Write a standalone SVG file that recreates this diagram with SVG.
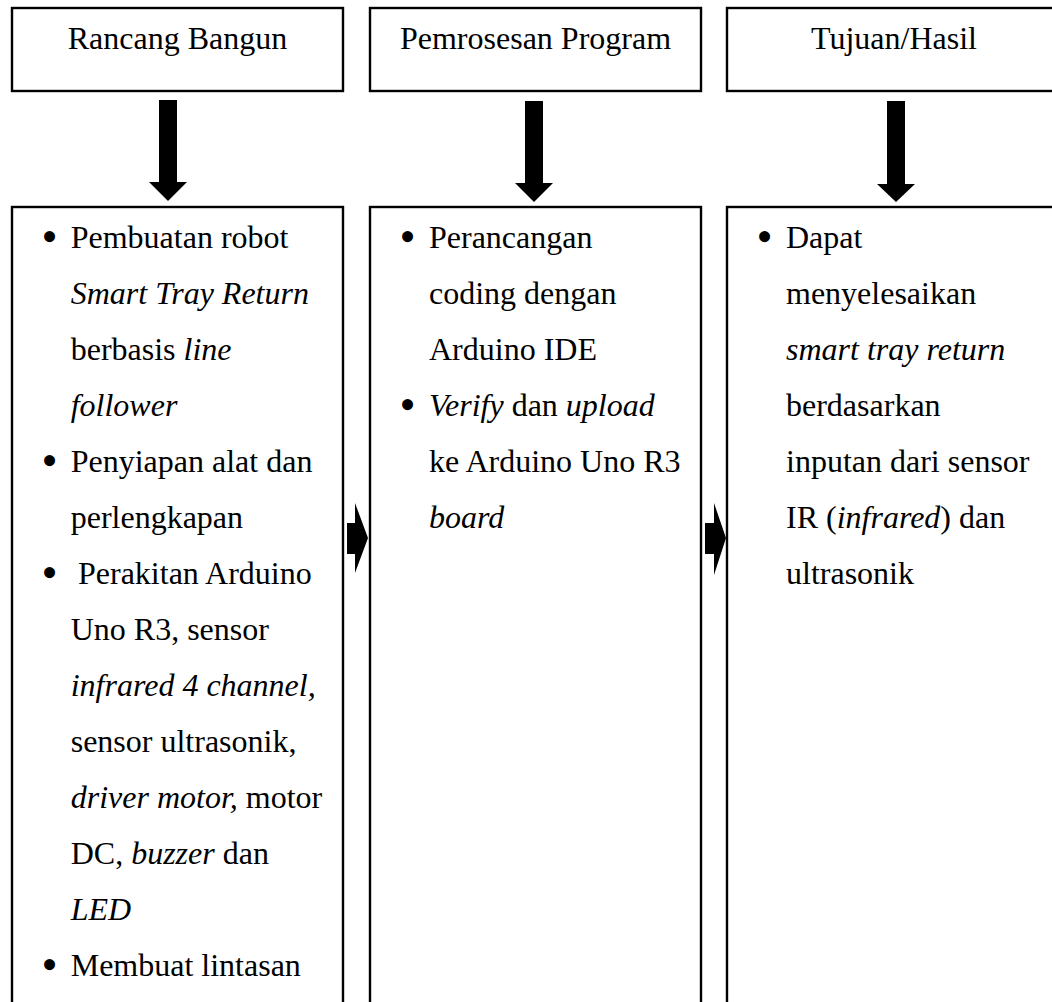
<svg xmlns="http://www.w3.org/2000/svg" width="1052" height="1002" viewBox="0 0 1052 1002">
<style>
.box{fill:#fff;stroke:#000;stroke-width:2.4}
.t{font-family:"Liberation Serif","Times New Roman",serif;font-size:32px;fill:#000}
.h{text-anchor:middle}
.i{font-style:italic}
.b{font-family:"Liberation Serif","Times New Roman",serif;font-size:46px;fill:#000}
.arr{fill:#000}
</style>
<rect width="1052" height="1002" fill="#fff"/>
<g id="head1"><rect class="box" x="12" y="8" width="331" height="83"/><text class="t h" x="177.5" y="49">Rancang Bangun</text></g>
<g id="head2"><rect class="box" x="370" y="8" width="331" height="83"/><text class="t h" x="535.5" y="49">Pemrosesan Program</text></g>
<g id="head3"><rect class="box" x="727" y="8" width="331" height="83"/><text class="t h" x="894" y="49">Tujuan/Hasil</text></g>
<g id="body1"><rect class="box" x="12" y="207" width="331" height="810"/>
<text class="b" x="41.5" y="252">•</text>
<text class="t" x="70.7" y="248">Pembuatan robot</text>
<text class="t i" x="70.7" y="304">Smart Tray Return</text>
<text class="t" x="70.7" y="360">berbasis <tspan class="i">line</tspan></text>
<text class="t i" x="70.7" y="416">follower</text>
<text class="b" x="41.5" y="476">•</text>
<text class="t" x="70.7" y="472">Penyiapan alat dan</text>
<text class="t" x="70.7" y="528">perlengkapan</text>
<text class="b" x="41.5" y="588">•</text>
<text class="t" x="78" y="584">Perakitan Arduino</text>
<text class="t" x="70.7" y="640">Uno R3, sensor</text>
<text class="t i" x="70.7" y="696">infrared 4 channel,</text>
<text class="t" x="70.7" y="752">sensor ultrasonik,</text>
<text class="t" x="70.7" y="808"><tspan class="i">driver motor,</tspan> motor</text>
<text class="t" x="70.7" y="864">DC, <tspan class="i">buzzer</tspan> dan</text>
<text class="t i" x="70.7" y="920">LED</text>
<text class="b" x="41.5" y="980">•</text>
<text class="t" x="70.7" y="976">Membuat lintasan</text>
</g>
<g id="body2"><rect class="box" x="370" y="207" width="331" height="810"/>
<text class="b" x="399.5" y="252">•</text>
<text class="t" x="429" y="248">Perancangan</text>
<text class="t" x="429" y="304">coding dengan</text>
<text class="t" x="429" y="360">Arduino IDE</text>
<text class="b" x="399.5" y="420">•</text>
<text class="t" x="429" y="416"><tspan class="i">Verify</tspan> dan <tspan class="i">upload</tspan></text>
<text class="t" x="429" y="472">ke Arduino Uno R3</text>
<text class="t i" x="429" y="528">board</text>
</g>
<g id="body3"><rect class="box" x="727" y="207" width="331" height="810"/>
<text class="b" x="756.5" y="252">•</text>
<text class="t" x="786" y="248">Dapat</text>
<text class="t" x="786" y="304">menyelesaikan</text>
<text class="t i" x="786" y="360">smart tray return</text>
<text class="t" x="786" y="416">berdasarkan</text>
<text class="t" x="786" y="472">inputan dari sensor</text>
<text class="t" x="786" y="528">IR (<tspan class="i">infrared</tspan>) dan</text>
<text class="t" x="786" y="584">ultrasonik</text>
</g>
<g id="connectors">
<polygon class="arr" points="159,100 177,100 177,182 187,182 168,201 149,182 159,182"/>
<polygon class="arr" points="525,101 543,101 543,183 553,183 534,202 515,183 525,183"/>
<polygon class="arr" points="887,101 905,101 905,184 915,184 896,202 877,184 887,184"/>
<polygon class="arr" points="347,523 355,523 355,503 368,538 355,573 355,554 347,554"/>
<polygon class="arr" points="705,523 714,523 714,503 726,538 714,575 714,554 705,554"/>
</g>
</svg>
